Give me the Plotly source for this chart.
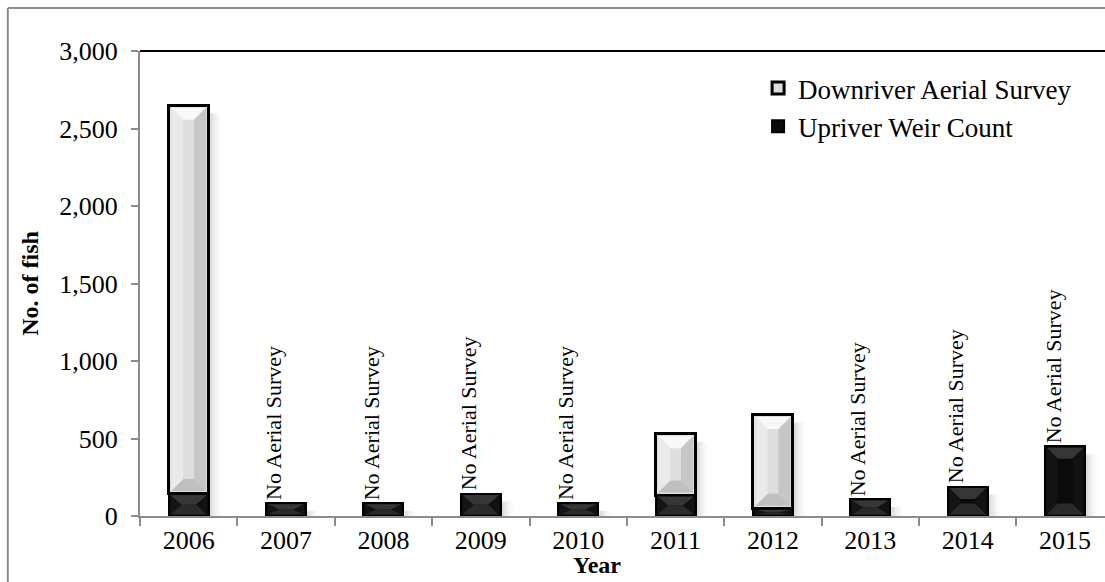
import plotly.graph_objects as go

# Escapement counts by year
years = ["2006", "2007", "2008", "2009", "2010", "2011", "2012", "2013", "2014", "2015"]
weir_count = [145, 85, 85, 145, 85, 135, 50, 110, 190, 450]
aerial_survey = [2505, None, None, None, None, 395, 605, None, None, None]
y_ticks = [0, 500, 1000, 1500, 2000, 2500, 3000]

SERIF = "Liberation Serif"
Y_MAX = 3000
X_RANGE = [-0.5, 9.41]
BAR_GAP = 0.59
PLOT_W, PLOT_H = 965, 465          # plot area in pixels
PX_X = PLOT_W / (X_RANGE[1] - X_RANGE[0])
PX_Y = PLOT_H / Y_MAX

fig = go.Figure()
fig.add_trace(go.Bar(
    x=years, y=weir_count, name="Upriver Weir Count",
    marker=dict(color="#0b0b0b", line=dict(color="#000000", width=2)),
))
fig.add_trace(go.Bar(
    x=years, y=aerial_survey, name="Downriver Aerial Survey",
    marker=dict(color="#dedede", line=dict(color="#000000", width=3)),
))

# Label years without an aerial survey, just above the weir bar
for i, (w, a) in enumerate(zip(weir_count, aerial_survey)):
    if a is None:
        fig.add_annotation(
            x=i, y=w, xref="x", yref="y",
            text="No Aerial Survey", textangle=-90,
            showarrow=False, xanchor="center", yanchor="bottom",
            xshift=-12, yshift=1,
            font=dict(family=SERIF, size=22, color="#000000"),
        )


def poly(points):
    return "M " + " L ".join(f"{x:.4f},{y:.3f}" for x, y in points) + " Z"


def bevel(center, y0, y1, depth_px, colors, border_px):
    """Bevelled faces drawn inside one bar segment (top, bottom, left, right)."""
    hw = (1 - BAR_GAP) / 2
    bx, by = border_px / PX_X, border_px / PX_Y
    xl, xr = center - hw + bx, center + hw - bx
    yb, yt = y0 + by, y1 - by
    if yt <= yb:
        return
    dx = depth_px / PX_X
    dy = min(depth_px / PX_Y, (yt - yb) / 2)
    faces = {
        "top": [(xl, yt), (xr, yt), (xr - dx, yt - dy), (xl + dx, yt - dy)],
        "bottom": [(xl, yb), (xr, yb), (xr - dx, yb + dy), (xl + dx, yb + dy)],
        "left": [(xl, yb), (xl, yt), (xl + dx, yt - dy), (xl + dx, yb + dy)],
        "right": [(xr, yb), (xr, yt), (xr - dx, yt - dy), (xr - dx, yb + dy)],
    }
    for side, pts in faces.items():
        fig.add_shape(type="path", xref="x2", yref="y", path=poly(pts),
                      fillcolor=colors[side], line=dict(width=0), layer="above")


def shadow(center, top):
    """Soft drop shadow along the right side of a bar."""
    hw = (1 - BAR_GAP) / 2
    x_start = center + hw + 1 / PX_X
    for k, alpha in enumerate([0.14, 0.10, 0.07, 0.045, 0.025, 0.012]):
        fig.add_shape(type="rect", xref="x2", yref="y",
                      x0=x_start + k * 2 / PX_X, x1=x_start + (k + 1) * 2 / PX_X,
                      y0=0, y1=max(top - 8 / PX_Y, 0),
                      fillcolor=f"rgba(0,0,0,{alpha})", line=dict(width=0),
                      layer="below")


dark_faces = dict(top="#363636", bottom="#2a2a2a", left="#141414", right="#121212")
light_faces = dict(top="#f8f8f8", bottom="#bfbfbf", left="#e9e9e9", right="#c6c6c6")

for i, (w, a) in enumerate(zip(weir_count, aerial_survey)):
    total = w + (a or 0)
    shadow(i, total)
    bevel(i, 0, w, 11, dark_faces, 1.5)
    if a:
        bevel(i, w, total, 12, light_faces, 2.5)

# Outer chart frame (top and left edges) and plot-area top border
fig.add_shape(type="line", xref="paper", yref="paper", x0=-0.137, x1=1.05,
              y0=1.0925, y1=1.0925, line=dict(color="#8c8c8c", width=2))
fig.add_shape(type="line", xref="paper", yref="paper", x0=-0.137, x1=-0.137,
              y0=1.0925, y1=-0.3, line=dict(color="#8c8c8c", width=2))
fig.add_shape(type="line", xref="paper", yref="paper", x0=0, x1=1.05,
              y0=1, y1=1, line=dict(color="#000000", width=2))

fig.add_annotation(text="<b>Year</b>", xref="paper", yref="paper",
                   x=0.474, y=-0.105, xanchor="center", yanchor="middle",
                   showarrow=False, font=dict(family=SERIF, size=24))

fig.update_layout(
    width=1105, height=582,
    margin=dict(l=140, r=0, t=51, b=66),
    paper_bgcolor="white", plot_bgcolor="white",
    barmode="stack", bargap=BAR_GAP,
    font=dict(family=SERIF, size=24, color="#000000"),
    showlegend=True,
    legend=dict(
        x=0.6405, y=0.972, xanchor="left", yanchor="top",
        traceorder="reversed", bgcolor="rgba(0,0,0,0)",
        font=dict(family=SERIF, size=27, color="#000000"),
        itemwidth=30, tracegroupgap=0,
    ),
    xaxis=dict(
        type="category", range=X_RANGE,
        showline=True, linecolor="#8c8c8c", linewidth=2,
        ticks="outside", tickson="boundaries", ticklen=8, tickcolor="#8c8c8c",
        tickwidth=2, showgrid=False,
        tickfont=dict(family=SERIF, size=26),
    ),
    xaxis2=dict(range=X_RANGE, overlaying="x", visible=False),
    yaxis=dict(
        range=[0, Y_MAX], tickvals=y_ticks, tickformat=",d",
        showline=True, linecolor="#8c8c8c", linewidth=2,
        ticks="outside", ticklen=7, tickcolor="#8c8c8c", tickwidth=2,
        showgrid=False, zeroline=False,
        tickfont=dict(family=SERIF, size=26),
        ticklabelstandoff=8,
        title=dict(text="<b>No. of fish</b>", standoff=14,
                   font=dict(family=SERIF, size=24)),
    ),
)

fig.write_html("out.html")
